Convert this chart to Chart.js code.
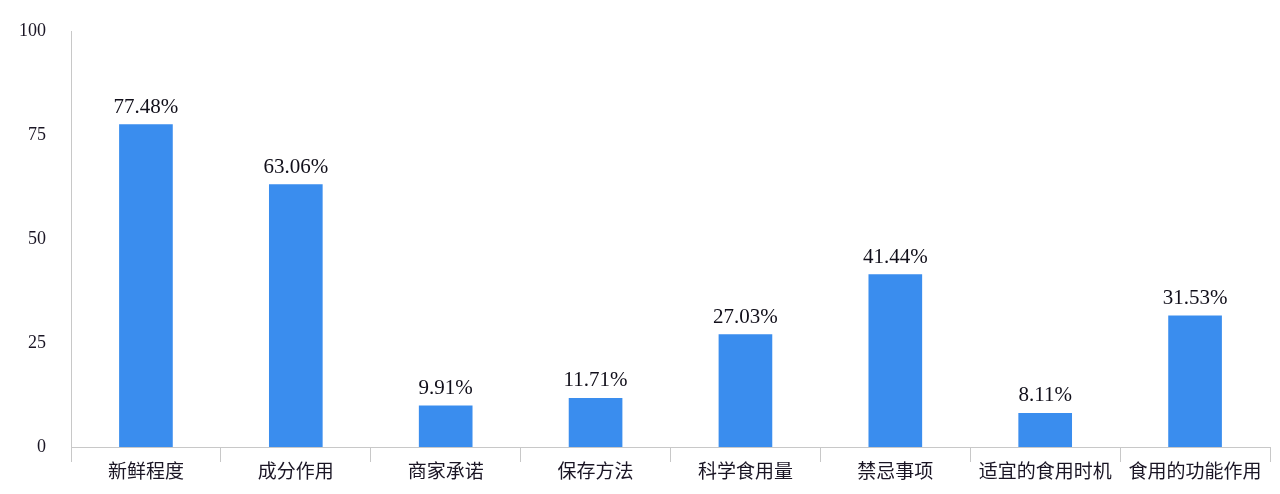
<!DOCTYPE html>
<html>
<head>
<meta charset="utf-8">
<script src="https://cdn.jsdelivr.net/npm/chart.js@4/dist/chart.umd.min.js"></script>
<style>
  html, body { margin: 0; padding: 0; background: #fff; }
  #wrap { width: 1280px; height: 494px; position: relative; }
</style>
</head>
<body>
<div id="wrap"><canvas id="canvas"></canvas></div>
<script>
var categories = ['新鲜程度', '成分作用', '商家承诺', '保存方法', '科学食用量', '禁忌事项', '适宜的食用时机', '食用的功能作用'];
var percents = [77.48, 63.06, 9.91, 11.71, 27.03, 41.44, 8.11, 31.53];
var yTicks = [0, 25, 50, 75, 100];

var serif = "'Liberation Serif', 'Times New Roman', serif";
var cjk = "'Noto Sans CJK SC', sans-serif";

// values above each bar
var valueLabels = {
    id: 'valueLabels',
    afterDatasetsDraw: function(chart) {
        var ctx = chart.ctx;
        var meta = chart.getDatasetMeta(0);
        ctx.save();
        ctx.fillStyle = '#110f1a';
        ctx.font = '21px ' + serif;
        ctx.textAlign = 'center';
        ctx.textBaseline = 'alphabetic';
        meta.data.forEach(function(bar, i) {
            ctx.fillText(percents[i].toFixed(2) + '%', bar.x, bar.y - 12);
        });
        ctx.restore();
    }
};

var config = {
    type: 'bar',
    data: {
        labels: categories,
        datasets: [{
            data: percents,
            backgroundColor: '#3a8dee',
            borderWidth: 0,
            barThickness: 53
        }]
    },
    plugins: [valueLabels],
    options: {
        responsive: true,
        maintainAspectRatio: false,
        animation: false,
        layout: {
            padding: { top: 31, right: 10, bottom: 0, left: 0 }
        },
        plugins: {
            legend: { display: false },
            tooltip: { enabled: false }
        },
        scales: {
            x: {
                grid: {
                    offset: true,
                    drawOnChartArea: false,
                    drawTicks: true,
                    tickLength: 15,
                    color: '#c8c8c8'
                },
                border: { color: '#c8c8c8' },
                ticks: {
                    color: '#1a1524',
                    padding: -3,
                    font: { family: cjk, size: 19 }
                },
                afterFit: function(scale) { scale.height = 47; }
            },
            y: {
                min: 0,
                max: 100,
                afterBuildTicks: function(scale) {
                    scale.ticks = yTicks.map(function(v) { return { value: v }; });
                },
                grid: { display: false },
                border: { color: '#c8c8c8' },
                ticks: {
                    color: '#1a1524',
                    padding: 17,
                    font: { family: serif, size: 18 }
                },
                afterFit: function(scale) { scale.width = 71; }
            }
        }
    }
};

window.onload = function() {
    window.myBar = new Chart(document.getElementById('canvas'), config);
};
</script>
</body>
</html>
